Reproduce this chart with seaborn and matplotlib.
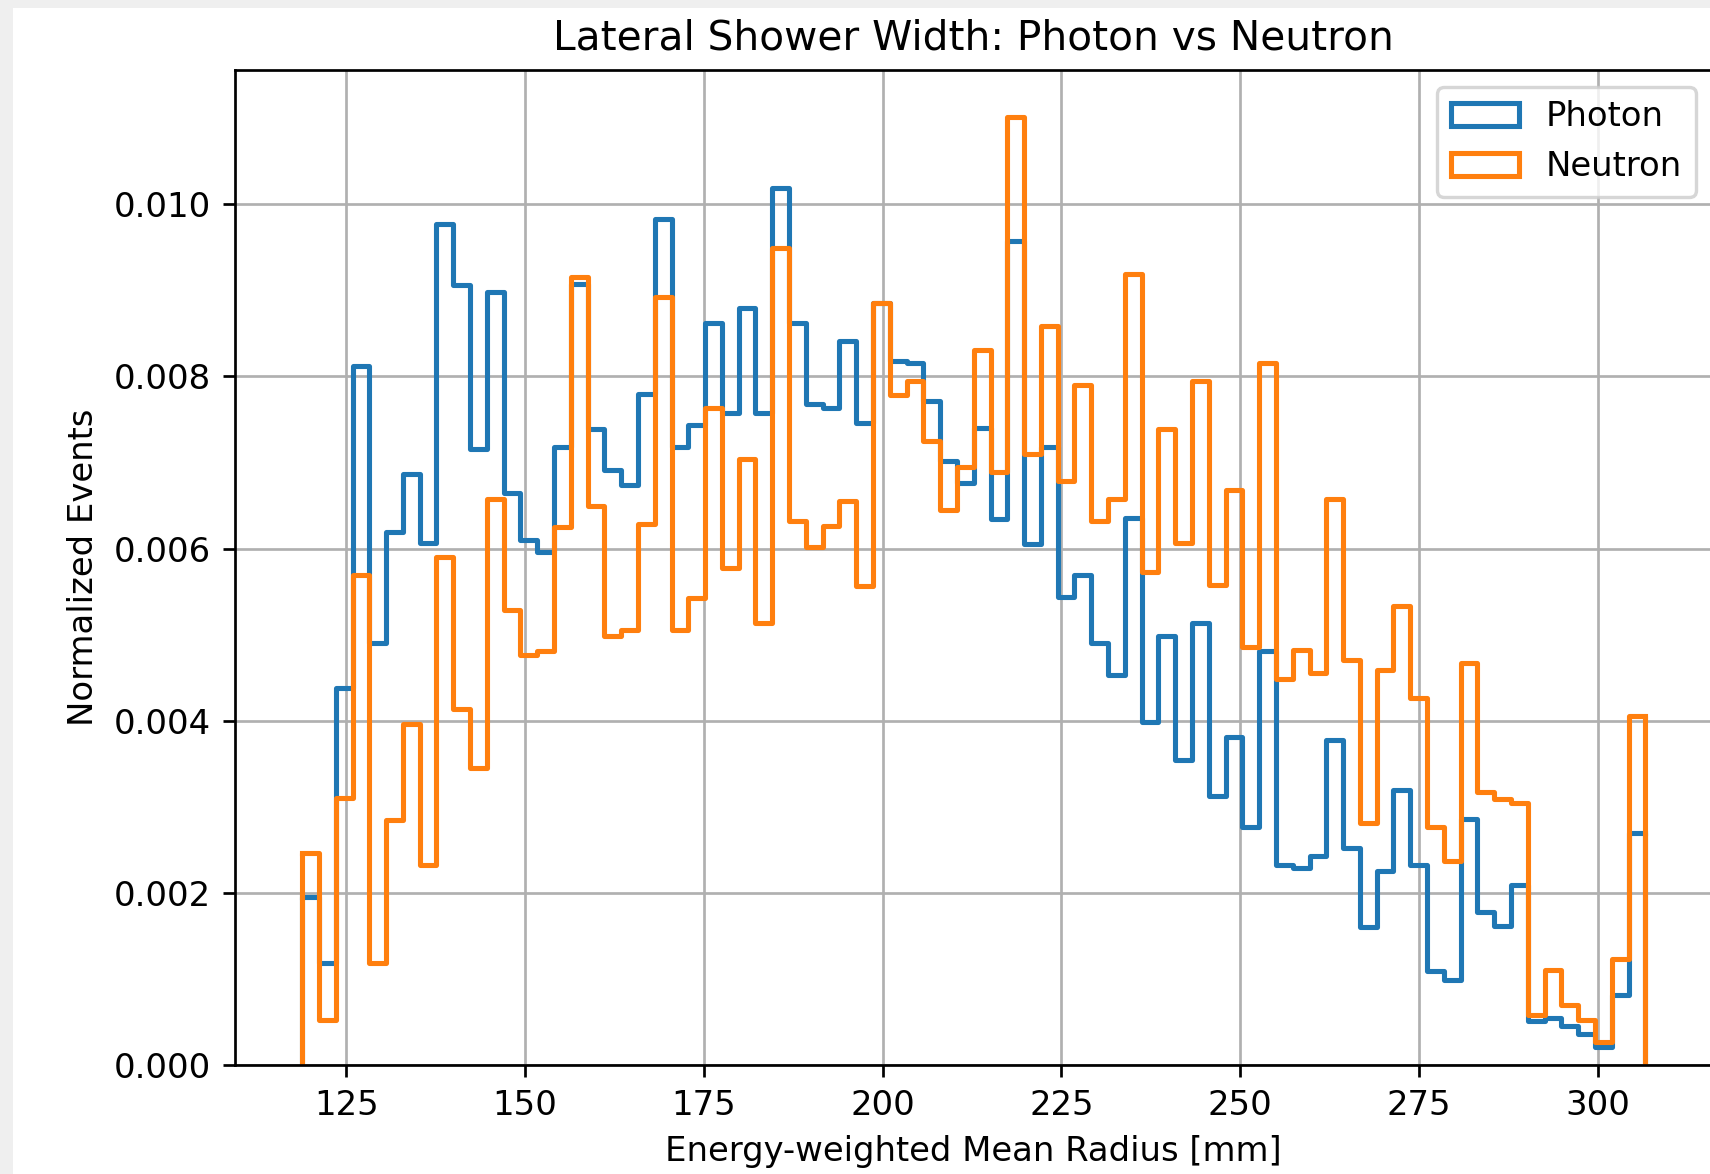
import numpy as np
import pandas as pd
import matplotlib
matplotlib.use("Agg")
import matplotlib.pyplot as plt
from matplotlib.patches import Patch, Rectangle
import seaborn as sns

# ---- data ----
bin_lo = 118.85
bin_hi = 306.65
n_bins = 80

photon_density = [
    1.95, 1.19, 4.38, 8.12, 4.90, 6.19, 6.87, 6.07, 9.77, 9.06,
    7.16, 8.98, 6.64, 6.10, 5.96, 7.18, 9.07, 7.39, 6.91, 6.74,
    7.80, 9.83, 7.18, 7.43, 8.62, 7.57, 8.79, 7.57, 10.19, 8.62,
    7.68, 7.63, 8.41, 7.46, 8.85, 8.18, 8.15, 7.71, 7.02, 6.76,
    7.40, 6.34, 9.57, 6.05, 7.18, 5.44, 5.69, 4.90, 4.53, 6.36,
    3.99, 4.99, 3.55, 5.13, 3.13, 3.81, 2.77, 4.81, 2.32, 2.29,
    2.43, 3.78, 2.52, 1.61, 2.26, 3.20, 2.32, 1.09, 0.99, 2.86,
    1.78, 1.62, 2.09, 0.51, 0.55, 0.46, 0.36, 0.21, 0.81, 2.70,
]
neutron_density = [
    2.47, 0.53, 3.10, 5.69, 1.19, 2.85, 3.96, 2.32, 5.90, 4.14,
    3.45, 6.57, 5.29, 4.76, 4.81, 6.25, 9.15, 6.49, 4.99, 5.06,
    6.28, 8.92, 5.06, 5.43, 7.63, 5.77, 7.04, 5.13, 9.49, 6.32,
    6.02, 6.26, 6.55, 5.57, 8.85, 7.78, 7.95, 7.25, 6.45, 6.95,
    8.31, 6.89, 11.01, 7.10, 8.58, 6.78, 7.90, 6.32, 6.57, 9.19,
    5.73, 7.39, 6.07, 7.95, 5.58, 6.68, 4.86, 8.15, 4.48, 4.82,
    4.56, 6.57, 4.71, 2.81, 4.59, 5.33, 4.27, 2.77, 2.37, 4.67,
    3.17, 3.09, 3.05, 0.58, 1.10, 0.70, 0.53, 0.27, 1.23, 4.06,
]
density_scale = 1e-3
series_labels = ["Photon", "Neutron"]
series_colors = ["#1f77b4", "#ff7f0e"]

title = "Lateral Shower Width: Photon vs Neutron"
xlabel = "Energy-weighted Mean Radius [mm]"
ylabel = "Normalized Events"

# ---- figure ----
sns.reset_orig()
plt.rcParams["font.family"] = ["DejaVu Sans"]
DPI = 244
W, H = 1710, 1174
fig = plt.figure(figsize=(W / DPI, H / DPI), dpi=DPI, facecolor="#efefef")
# white screenshot area
fig.patches.append(Rectangle((13 / W, 0), 1 - 13 / W, 1 - 8 / H,
                             transform=fig.transFigure, facecolor="white",
                             edgecolor="none", zorder=-10))
ax = fig.add_axes([235 / W, 1 - 1065.2 / H, (1712.5 - 235) / W, (1065.2 - 69.8) / H])
ax.set_facecolor("white")

edges = np.linspace(bin_lo, bin_hi, n_bins + 1)
centers = 0.5 * (edges[:-1] + edges[1:])
LW = 1.5
for label, vals, col in zip(series_labels, [photon_density, neutron_density], series_colors):
    w = np.asarray(vals) * density_scale
    df = pd.DataFrame({"x": centers, "w": w})
    sns.histplot(data=df, x="x", weights="w", bins=n_bins, binrange=(bin_lo, bin_hi),
                 element="step", fill=False, color=col, linewidth=LW,
                 stat="count", ax=ax)
    # close the outline down to the baseline at both ends (as a step histogram does)
    ax.vlines([edges[0], edges[-1]], 0, [w[0], w[-1]], color=col, linewidth=LW)

ymax = max(max(photon_density), max(neutron_density)) * density_scale
ax.set_xlim(bin_lo - 0.05 * (bin_hi - bin_lo), bin_hi + 0.05 * (bin_hi - bin_lo))
ax.set_ylim(0, ymax * 1.05)
ax.set_xticks([125, 150, 175, 200, 225, 250, 275, 300])
ax.set_yticks([0.0, 0.002, 0.004, 0.006, 0.008, 0.010])
ax.yaxis.set_major_formatter(matplotlib.ticker.FormatStrFormatter("%.3f"))
ax.grid(True)
ax.set_axisbelow(True)
ax.set_title(title)
ax.set_xlabel(xlabel)
ax.set_ylabel(ylabel)

handles = [Patch(facecolor="none", edgecolor=c, linewidth=LW) for c in series_colors]
ax.legend(handles, series_labels, loc="upper right")

fig.savefig("out.png", dpi=DPI, facecolor=fig.get_facecolor())
